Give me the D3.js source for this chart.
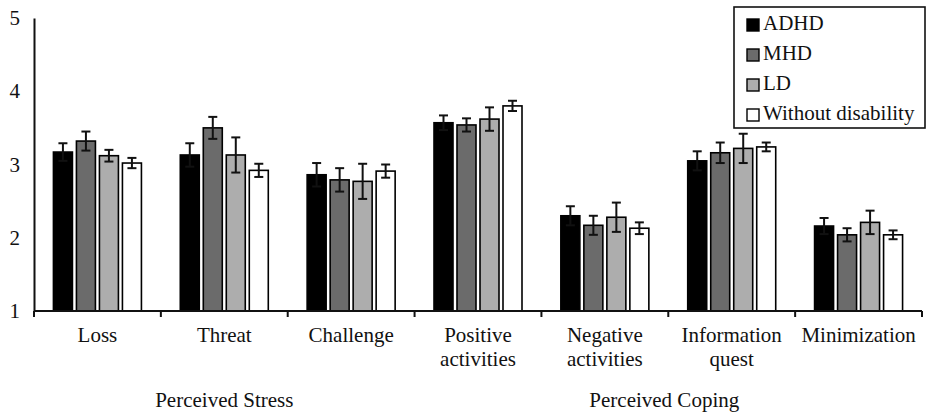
<!DOCTYPE html>
<html>
<head>
<meta charset="utf-8">
<script src="https://cdn.jsdelivr.net/npm/d3@7"></script>
<style>
  html, body { margin: 0; padding: 0; background: #ffffff; }
  svg { display: block; }
  text { font-family: "Liberation Serif", "Times New Roman", serif; fill: #111; }
</style>
</head>
<body>
<svg id="chart" width="927" height="413"></svg>
<script>
// Subscales (x categories), with line breaks for the tick labels
const categories = ["Loss", "Threat", "Challenge", "Positive activities", "Negative activities", "Information quest", "Minimization"];
const categoryLines = [["Loss"], ["Threat"], ["Challenge"], ["Positive", "activities"], ["Negative", "activities"], ["Information", "quest"], ["Minimization"]];

// Groups of subscales shown under the axis
const groupNames = ["Perceived Stress", "Perceived Coping"];
const groupSpans = [["Loss", "Challenge"], ["Positive activities", "Minimization"]];

// Participant groups
const series = ["ADHD", "MHD", "LD", "Without disability"];
const seriesColors = ["#000000", "#6b6b6b", "#adadad", "#ffffff"];

// Mean scores per subscale, one array per participant group
const adhdMeans = [3.17, 3.13, 2.86, 3.57, 2.30, 3.05, 2.16];
const mhdMeans  = [3.32, 3.50, 2.79, 3.54, 2.17, 3.16, 2.04];
const ldMeans   = [3.12, 3.13, 2.77, 3.62, 2.28, 3.22, 2.21];
const wdMeans   = [3.02, 2.92, 2.91, 3.80, 2.13, 3.24, 2.04];

// Standard errors (half the error-bar length)
const adhdErr = [0.12, 0.16, 0.16, 0.10, 0.13, 0.13, 0.11];
const mhdErr  = [0.13, 0.15, 0.16, 0.09, 0.13, 0.14, 0.09];
const ldErr   = [0.08, 0.24, 0.24, 0.16, 0.20, 0.20, 0.16];
const wdErr   = [0.07, 0.09, 0.09, 0.07, 0.08, 0.06, 0.06];

// Y axis tick values
const yTicks = [1, 2, 3, 4, 5];

const meansBySeries = [adhdMeans, mhdMeans, ldMeans, wdMeans];
const errBySeries = [adhdErr, mhdErr, ldErr, wdErr];

const FS = "21px";
const svg = d3.select("#chart");
const margin = { left: 34, right: 5, top: 18, bottom: 102 };
const W = 927, H = 413;
const plotBottom = H - margin.bottom;   // baseline of the bars

const x0 = d3.scaleBand().domain(categories).range([margin.left, W - margin.right]).padding(0);
const y = d3.scaleLinear().domain([1, 5]).range([plotBottom, margin.top]);
const bw = x0.bandwidth();
const x1 = d3.scaleBand().domain(series).range([bw / 2 - 44, bw / 2 + 44]).paddingInner(0.174).paddingOuter(0);
const color = d3.scaleOrdinal().domain(series).range(seriesColors);

// Flattened records for drawing
const records = [];
categories.forEach((c, i) => {
  series.forEach((s, j) => {
    records.push({ cat: c, ser: s, mean: meansBySeries[j][i], err: errBySeries[j][i] });
  });
});

// Bars
const bars = svg.append("g");
bars.selectAll("rect").data(records).join("rect")
  .attr("x", d => x0(d.cat) + x1(d.ser))
  .attr("y", d => y(d.mean))
  .attr("width", x1.bandwidth())
  .attr("height", d => y(1) - y(d.mean))
  .attr("fill", d => color(d.ser))
  .attr("stroke", "#000")
  .attr("stroke-width", 1.6);

// Error bars
const capHalf = 4.5;
const eb = svg.append("g").attr("stroke", "#111").attr("stroke-width", 2);
records.forEach(d => {
  const cx = x0(d.cat) + x1(d.ser) + x1.bandwidth() / 2;
  const yTop = y(d.mean + d.err), yBot = y(d.mean - d.err);
  eb.append("line").attr("x1", cx).attr("x2", cx).attr("y1", yTop).attr("y2", yBot);
  eb.append("line").attr("x1", cx - capHalf).attr("x2", cx + capHalf).attr("y1", yTop).attr("y2", yTop);
  eb.append("line").attr("x1", cx - capHalf).attr("x2", cx + capHalf).attr("y1", yBot).attr("y2", yBot);
});

// Y axis: line only, labels on the left
const yAxis = d3.axisLeft(y).tickValues(yTicks).tickSize(0).tickPadding(14).tickFormat(d3.format("d"));
const gy = svg.append("g").attr("transform", `translate(${margin.left},0)`).call(yAxis);
gy.select(".domain").attr("stroke", "#111").attr("stroke-width", 2);
gy.selectAll(".tick text").attr("font-size", FS).attr("font-family", "Liberation Serif, serif").attr("fill", "#111");

// X axis with ticks at category boundaries
const boundaries = categories.map(c => x0(c)).concat([x0(categories[categories.length - 1]) + bw]);
const gx = svg.append("g");
gx.append("line")
  .attr("x1", margin.left).attr("x2", W - margin.right)
  .attr("y1", plotBottom).attr("y2", plotBottom)
  .attr("stroke", "#111").attr("stroke-width", 2);
gx.selectAll("line.tk").data(boundaries).join("line").attr("class", "tk")
  .attr("x1", d => d).attr("x2", d => d)
  .attr("y1", plotBottom).attr("y2", plotBottom + 6)
  .attr("stroke", "#111").attr("stroke-width", 2);

// Category labels
categories.forEach((c, i) => {
  const t = svg.append("text")
    .attr("x", x0(c) + bw / 2)
    .attr("y", plotBottom + 31)
    .attr("text-anchor", "middle")
    .attr("font-size", FS);
  categoryLines[i].forEach((ln, k) => {
    t.append("tspan").attr("x", x0(c) + bw / 2).attr("dy", k === 0 ? 0 : 24).text(ln);
  });
});

// Group labels
groupNames.forEach((g, i) => {
  const a = x0(groupSpans[i][0]), b = x0(groupSpans[i][1]) + bw;
  svg.append("text")
    .attr("x", (a + b) / 2 - (i === 1 ? 4 : 0))
    .attr("y", plotBottom + 96)
    .attr("text-anchor", "middle")
    .attr("font-size", FS)
    .text(g);
});

// Legend
const lg = svg.append("g").attr("transform", "translate(734,7)");
lg.append("rect").attr("x", 0).attr("y", 0).attr("width", 191).attr("height", 121)
  .attr("fill", "#fff").attr("stroke", "#111").attr("stroke-width", 1.6);
series.forEach((s, j) => {
  const row = lg.append("g").attr("transform", `translate(0,${j * 30})`);
  row.append("rect").attr("x", 13).attr("y", 12).attr("width", 12).attr("height", 12)
    .attr("fill", color(s)).attr("stroke", "#000").attr("stroke-width", 1.4);
  row.append("text").attr("x", 29).attr("y", 22.5).attr("font-size", FS).text(s);
});
</script>
</body>
</html>
